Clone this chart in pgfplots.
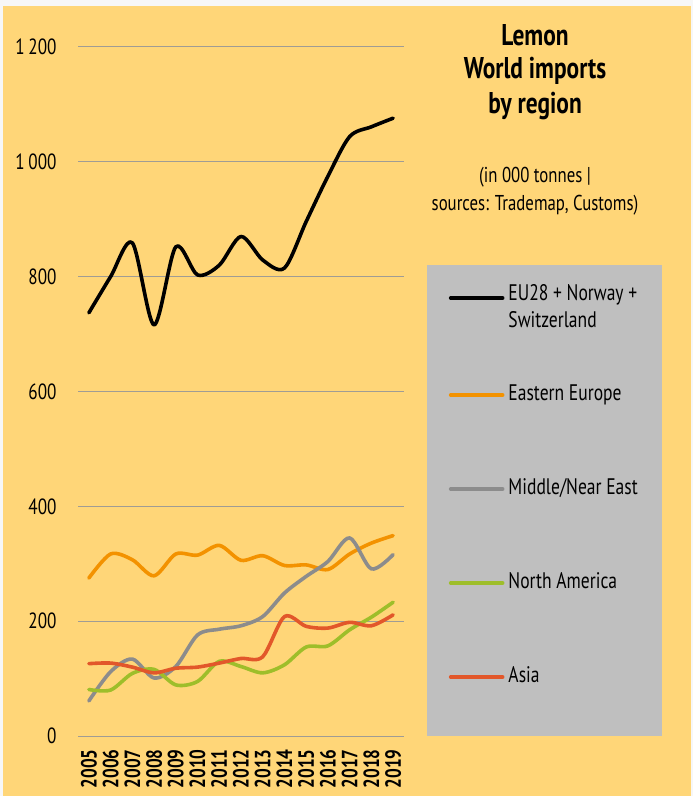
\documentclass[border=0pt]{standalone}
\usepackage{fontspec}
\setmainfont{PT Sans}[FakeStretch=0.78]
\usepackage{pgfplots}
\pgfplotsset{compat=1.18}
\definecolor{bgyellow}{HTML}{FFD678}
\definecolor{legbg}{HTML}{BFBFBF}
\definecolor{cEU}{HTML}{000000}
\definecolor{cEE}{HTML}{F39200}
\definecolor{cME}{HTML}{8C8C8C}
\definecolor{cNA}{HTML}{9EBE2A}
\definecolor{cAS}{HTML}{E2572A}
\definecolor{gridc}{HTML}{A09C94}
\begin{document}
\begin{tikzpicture}[x=1pt,y=1pt]
\useasboundingbox (0,0) rectangle (693,796);
\fill[white!94!gray] (0,0) rectangle (693,796);
\fill[bgyellow] (3,0) rectangle (691,790);
\fill[legbg] (427,60) rectangle (662,531);
\node[font=\fontsize{30}{36}\selectfont\bfseries, align=center] at (535,761) {Lemon};
\node[font=\fontsize{30}{36}\selectfont\bfseries, align=center] at (535,725) {World imports};
\node[font=\fontsize{30}{36}\selectfont\bfseries, align=center] at (535,690) {by region};
\node[font=\fontsize{21.5}{28}\selectfont, align=center] at (535,619) {(in 000 tonnes |};
\node[font=\fontsize{21.5}{28}\selectfont, align=center] at (535,591) {sources: Trademap, Customs)};
\begin{axis}[
  at={(78pt,60pt)}, anchor=south west,
  scale only axis, width=326pt, height=689pt,
  xmin=2004.5, xmax=2019.5, ymin=0, ymax=1200,
  xtick={2005,...,2019},
  xticklabels={2005,2006,2007,2008,2009,2010,2011,2012,2013,2014,2015,2016,2017,2018,2019},
  ytick={0,200,...,1200},
  yticklabels={0,200,400,600,800,1\,000,1\,200},
  /pgf/number format/assume math mode=true,
  axis line style={draw=none},
  major tick length=0pt,
  ymajorgrids, grid style={gridc, line width=1pt},
  tick label style={font=\fontsize{22}{26}\selectfont, text=black},
  xticklabel style={rotate=90, anchor=east, xshift=-10pt, font=\fontsize{22}{26}\selectfont\bfseries},
  yticklabel style={anchor=east, xshift=-18pt},
  clip=false,
  every axis plot/.append style={smooth, tension=0.5, line width=3.6pt, line cap=round, line join=round},
  legend image code/.code={\draw[#1, line width=3.6pt, line cap=round] (0pt,0pt) -- (52pt,0pt);},
  legend cell align=left,
  legend style={at={(axis description cs:1.1371,0.6585)}, anchor=north west,
    fill=none, draw=none, inner sep=0pt, row sep=69pt, column sep=2pt,
    font=\fontsize{22.5}{28}\selectfont,
    nodes={inner sep=2pt, text height=16pt, text depth=5pt}},
]
\addplot[cEU] coordinates {(2005,737)(2006,800)(2007,859)(2008,716)(2009,852)(2010,803)(2011,820)(2012,870)(2013,829)(2014,815)(2015,896)(2016,975)(2017,1044)(2018,1061)(2019,1076)};
\addlegendentry[text depth=11pt]{\raisebox{0pt}[\height][0pt]{\begin{tabular}[t]{@{}l@{}}EU28 + Norway +\\[-1pt]Switzerland\end{tabular}}}
\addplot[cEE] coordinates {(2005,275)(2006,317)(2007,307)(2008,279)(2009,317)(2010,315)(2011,332)(2012,306)(2013,314)(2014,297)(2015,298)(2016,290)(2017,317)(2018,336)(2019,349)};
\addlegendentry{Eastern Europe}
\addplot[cME] coordinates {(2005,61)(2006,112)(2007,134)(2008,101)(2009,121)(2010,176)(2011,186)(2012,192)(2013,208)(2014,249)(2015,278)(2016,304)(2017,345)(2018,291)(2019,316)};
\addlegendentry{Middle/Near East}
\addplot[cNA] coordinates {(2005,81)(2006,80)(2007,109)(2008,116)(2009,89)(2010,95)(2011,130)(2012,121)(2013,110)(2014,124)(2015,155)(2016,157)(2017,185)(2018,207)(2019,233)};
\addlegendentry{North America}
\addplot[cAS] coordinates {(2005,126)(2006,127)(2007,120)(2008,110)(2009,118)(2010,120)(2011,127)(2012,135)(2013,138)(2014,208)(2015,191)(2016,188)(2017,198)(2018,192)(2019,211)};
\addlegendentry{Asia}
\end{axis}
\end{tikzpicture}
\end{document}
